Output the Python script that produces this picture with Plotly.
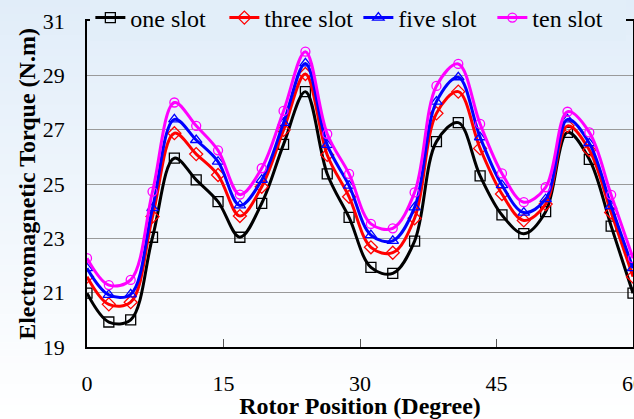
import plotly.graph_objects as go

# ---------------- data ----------------
rotor_position = [0, 2.4, 4.8, 7.2, 9.6, 12, 14.4, 16.8, 19.2, 21.6, 24, 26.4, 28.8,
                  31.2, 33.6, 36, 38.4, 40.8, 43.2, 45.6, 48, 50.4, 52.8, 55.2, 57.6, 60]

one_slot = [20.98, 19.92, 20.00, 23.04, 25.95, 25.15, 24.35, 23.04, 24.29, 26.46, 28.40, 25.37, 23.77,
            21.93, 21.71, 22.90, 26.56, 27.26, 25.30, 23.86, 23.17, 23.98, 26.90, 25.91, 23.45, 20.98]
three_slot = [21.59, 20.57, 20.65, 23.80, 26.87, 26.10, 25.33, 23.82, 24.90, 26.99, 29.05, 26.07, 24.53,
              22.67, 22.47, 23.74, 27.60, 28.40, 26.31, 24.63, 23.66, 24.26, 27.14, 26.25, 23.95, 21.59]
five_slot = [21.90, 20.92, 20.94, 24.11, 27.38, 26.62, 25.82, 24.21, 25.15, 27.25, 29.44, 26.44, 24.94,
             23.12, 22.91, 24.14, 28.03, 28.93, 26.72, 24.96, 23.95, 24.44, 27.38, 26.50, 24.19, 21.90]
ten_slot = [22.27, 21.28, 21.47, 24.72, 28.00, 27.14, 26.24, 24.61, 25.58, 27.69, 29.87, 26.84, 25.37,
            23.53, 23.37, 24.69, 28.61, 29.42, 27.21, 25.39, 24.33, 24.88, 27.66, 26.90, 24.60, 22.27]

series_names = ["one slot", "three slot", "five slot", "ten slot"]
series_values = [one_slot, three_slot, five_slot, ten_slot]
series_colors = ["#000000", "#ff0000", "#0000ff", "#ff00ff"]
series_symbols = ["square-open", "diamond-open", "triangle-up-open", "circle-open"]
series_sizes = [10, 10, 10, 9]

x_ticks = [0, 15, 30, 45, 60]
y_ticks = [19, 21, 23, 25, 27, 29, 31]

# ---------------- figure ----------------
W, H = 634, 419
L, R, T, B = 87, 1, 21, 72
pw, ph = W - L - R, H - T - B

fig = go.Figure()
for name, vals, col, sym, sz in zip(series_names, series_values, series_colors, series_symbols, series_sizes):
    fig.add_trace(go.Scatter(
        x=rotor_position, y=vals, name=name, mode="lines+markers",
        line=dict(color=col, width=3, shape="spline", smoothing=1.0),
        marker=dict(symbol=sym, size=sz, color=col, line=dict(color=col, width=1.3)),
    ))

# vertical gradient background (light blue -> white)
top_rgb = (225, 237, 249)
bot_rgb = (255, 255, 255)
n = 60
shapes = []
for i in range(n):
    py0 = H * i / n
    py1 = H * (i + 1) / n + 0.5
    t = (i + 0.5) / n
    c = tuple(round(top_rgb[k] + (bot_rgb[k] - top_rgb[k]) * t) for k in range(3))
    shapes.append(dict(
        type="rect", xref="paper", yref="paper", layer="below",
        x0=(0 - L) / pw - 0.01, x1=(W - L) / pw + 0.01,
        y0=(H - B - py1) / ph, y1=(H - B - py0) / ph,
        line=dict(width=0), fillcolor="rgb(%d,%d,%d)" % c,
    ))

t_leg = 20 / H
leg_c = tuple(round(top_rgb[k] + (bot_rgb[k] - top_rgb[k]) * t_leg) for k in range(3))

serif = "Liberation Serif"

fig.update_layout(
    width=W, height=H,
    margin=dict(l=L, r=R, t=T, b=B, pad=0, autoexpand=False),
    paper_bgcolor="white",
    plot_bgcolor="rgba(0,0,0,0)",
    shapes=shapes,
    font=dict(family=serif, size=22, color="black"),
    showlegend=True,
    legend=dict(
        orientation="h", x=0.497, xanchor="center", y=1.0 + 3 / ph, yanchor="middle",
        bgcolor="rgb(%d,%d,%d)" % leg_c, borderwidth=0,
        font=dict(family=serif, size=24, color="black"),
        itemwidth=30, tracegroupgap=0, entrywidth=89, entrywidthmode="pixels",
    ),
    xaxis=dict(
        range=[0, 60], tickvals=x_ticks, ticktext=[str(v) for v in x_ticks],
        showgrid=False, zeroline=False, automargin=False,
        showline=True, linecolor="black", linewidth=1.5, mirror=True,
        ticks="inside", ticklen=8, tickcolor="#555555", tickwidth=1.2,
        ticklabelstandoff=16, ticklabeloverflow="allow",
        tickfont=dict(family=serif, size=22, color="black"),
        title=dict(text="<b>Rotor Position (Degree)</b>", standoff=0,
                   font=dict(family=serif, size=24, color="black")),
    ),
    yaxis=dict(
        range=[19, 31], tickvals=y_ticks, ticktext=[str(v) for v in y_ticks],
        showgrid=True, gridcolor="#9a9a9a", gridwidth=1.3, zeroline=False, automargin=False,
        showline=True, linecolor="black", linewidth=1.5, mirror=True,
        ticks="", ticklabelstandoff=16,
        tickfont=dict(family=serif, size=22, color="black"),
        title=dict(text="<b>Electromagnetic Torque (N.m)</b>", standoff=0,
                   font=dict(family=serif, size=24, color="black")),
    ),
)

fig.write_html("out.html")
